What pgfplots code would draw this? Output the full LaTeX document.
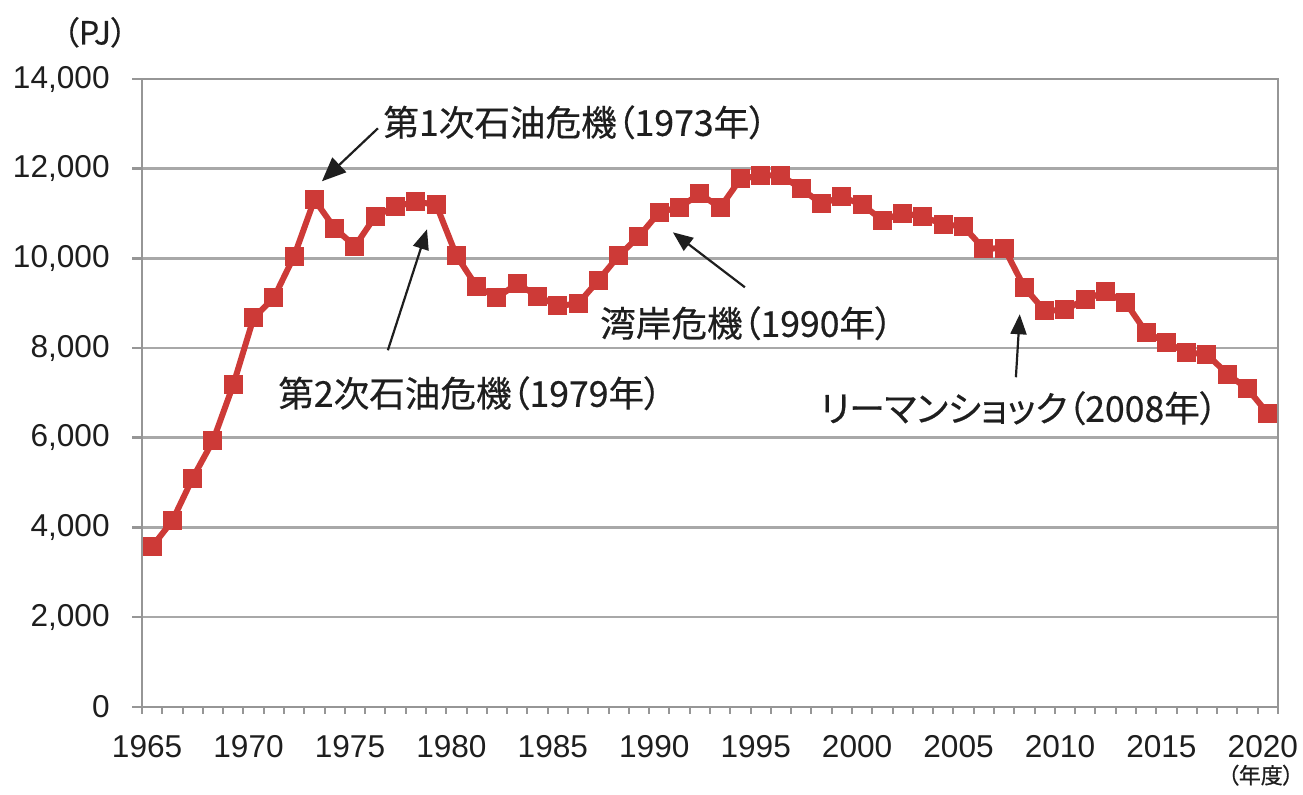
\documentclass[border=0pt]{standalone}
\usepackage{fontspec}
\setmainfont{Liberation Sans}
\newfontfamily\jp{Noto Sans CJK JP}[RawFeature=+palt, FakeBold=0.5]
\usepackage{pgfplots}
\pgfplotsset{compat=1.18}
\usetikzlibrary{arrows.meta}

\definecolor{linered}{RGB}{205,58,55}
\definecolor{gridgray}{RGB}{168,168,168}
\definecolor{axisgray}{RGB}{150,150,150}
\definecolor{txt}{RGB}{30,30,30}

% Final energy consumption, industrial sector (PJ), fiscal years
\pgfplotstableread{
year value
1965 3570
1966 4150
1967 5100
1968 5930
1969 7180
1970 8670
1971 9120
1972 10050
1973 11310
1974 10670
1975 10270
1976 10940
1977 11160
1978 11260
1979 11200
1980 10060
1981 9370
1982 9130
1983 9430
1984 9160
1985 8940
1986 8990
1987 9510
1988 10060
1989 10490
1990 11030
1991 11140
1992 11440
1993 11130
1994 11770
1995 11850
1996 11850
1997 11550
1998 11220
1999 11370
2000 11200
2001 10850
2002 11010
2003 10930
2004 10760
2005 10710
2006 10210
2007 10230
2008 9350
2009 8830
2010 8850
2011 9090
2012 9250
2013 9010
2014 8350
2015 8120
2016 7900
2017 7860
2018 7420
2019 7090
2020 6540
}\energy

\begin{document}
\begin{tikzpicture}
\path[use as bounding box] (-71pt,-43.65pt) rectangle (580.5pt,353.35pt);
\begin{axis}[
  at={(0pt,0pt)}, anchor=south west,
  scale only axis, width=568pt, height=313.85pt,
  xmin=1964.5, xmax=2020.5, ymin=0, ymax=14000,
  clip=false,
  scaled ticks=false,
  axis line style={draw=axisgray, line width=1.2pt},
  tick align=outside,
  xtick pos=lower, ytick pos=left,
  xtick={1965,1970,...,2020},
  minor xtick={1964.5,1965.5,...,2020.5},
  every major x tick/.style={draw=none},
  every minor x tick/.style={draw=axisgray, line width=1pt},
  minor tick length=3.5pt,
  ytick={0,2000,...,14000},
  major tick length=5pt,
  every major y tick/.style={draw=axisgray, line width=1.2pt},
  ymajorgrids,
  grid style={draw=gridgray, line width=1.2pt},
  /pgf/number format/assume math mode=true,
  xticklabel style={font=\fontsize{15.8}{18}\selectfont, text=txt, inner sep=0pt, anchor=north, yshift=-9pt, xshift=-2.5pt},
  xticklabel={\pgfmathprintnumber[fixed, 1000 sep={}]{\tick}},
  yticklabel style={font=\fontsize{15.8}{18}\selectfont, text=txt, inner sep=0pt, anchor=east, xshift=-11pt},
  yticklabel={\pgfmathprintnumber[fixed, precision=0, 1000 sep={,}]{\tick}},
]
\addplot[linered, line width=3pt, mark=square*, mark size=4.5pt,
  mark options={fill=linered, draw=linered, line width=0pt}]
  table[x=year, y=value] {\energy};

% annotations
\begin{scope}[every node/.style={inner sep=0pt, anchor=west, text=txt,
    font=\jp\fontsize{17.8}{21}\selectfont}]
\node at (axis cs:1976.38,13034) {第1次石油危機（1973年）};
\node at (axis cs:1971.20,6991) {第2次石油危機（1979年）};
\node at (axis cs:1987.07,8552) {湾岸危機（1990年）};
\node at (axis cs:1997.92,6657) {リーマンショック（2008年）};
\end{scope}
\draw[txt, line width=1.1pt, -{Triangle[length=12pt,width=10pt]}]
  (axis cs:1976.13,12900) -- (axis cs:1973.37,11719);
\draw[txt, line width=1.1pt, -{Triangle[length=10pt,width=8pt]}]
  (axis cs:1976.62,7950) -- (axis cs:1978.55,10648);
\draw[txt, line width=1.1pt, -{Triangle[length=10pt,width=8pt]}]
  (axis cs:1994.22,9355) -- (axis cs:1990.67,10581);
\draw[txt, line width=1.1pt, -{Triangle[length=10pt,width=8pt]}]
  (axis cs:2007.58,7348) -- (axis cs:2007.77,8753);

% unit labels
\node[text=txt, inner sep=0pt, font=\jp\fontsize{16}{19}\selectfont]
  at (axis cs:1962.18,15041) {（PJ）};
\node[text=txt, inner sep=0pt, font=\jp\fontsize{11}{13}\selectfont]
  at (axis cs:2019.65,-1528) {（年度）};
\end{axis}
\end{tikzpicture}
\end{document}
